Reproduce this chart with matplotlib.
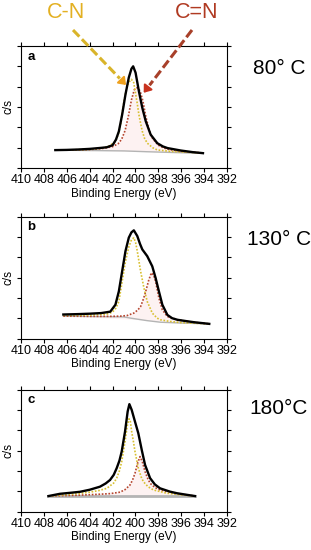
#!/usr/bin/env python3

import matplotlib
matplotlib.use('Agg')
import matplotlib.pyplot as plt
from matplotlib.lines import Line2D
from matplotlib.patches import FancyArrowPatch

plt.rcParams['font.family'] = ['Liberation Sans', 'DejaVu Sans']

## Data (binding energy in eV, intensity in tick units)
# panel a, 80 C
a_env_E = [407.0, 406.0, 405.0, 404.0, 403.0, 402.5, 402.0, 401.7, 401.45, 401.16, 400.87, 400.58,
           400.35, 400.2, 399.99, 399.7, 399.4, 399.1, 398.67, 398.09, 397.6, 397.2, 396.04, 395.0, 394.1]
a_env_I = [0.88, 0.89, 0.91, 0.94, 0.99, 1.02, 1.12, 1.4, 1.8, 2.63, 3.62, 4.45,
           4.88, 5.0, 4.69, 3.78, 2.96, 2.3, 1.64, 1.22, 1.06, 0.98, 0.86, 0.78, 0.73]
a_cn_E = [407.0, 405.0, 404.0, 403.0, 402.3, 401.75, 401.5, 401.3, 401.0, 400.8, 400.6, 400.35,
          400.15, 400.0, 399.85, 399.7, 399.55, 399.4, 399.2, 398.96, 398.5, 398.1, 397.0, 396.0, 394.1]
a_cn_I = [0.88, 0.9, 0.92, 0.97, 1.08, 1.3, 1.65, 2.13, 3.29, 3.85, 4.2, 4.36,
          4.2, 3.7, 3.2, 2.63, 2.2, 1.8, 1.45, 1.22, 1.0, 0.89, 0.82, 0.79, 0.74]
a_cdn_E = [407.0, 405.0, 404.0, 403.0, 402.0, 401.5, 401.2, 400.9, 400.6, 400.35, 400.1, 399.85,
           399.6, 399.35, 399.1, 398.8, 398.5, 398.0, 397.5, 397.0, 396.0, 394.1]
a_cdn_I = [0.88, 0.89, 0.91, 0.95, 1.05, 1.2, 1.42, 1.85, 2.6, 3.35, 3.85, 3.95,
           3.8, 3.3, 2.55, 1.85, 1.45, 1.12, 0.98, 0.9, 0.82, 0.74]
a_base_E = [407.0, 401.0, 399.0, 394.1]
a_base_I = [0.88, 0.84, 0.8, 0.72]

# panel b, 130 C
b_env_E = [406.3, 405.0, 404.0, 403.0, 402.2, 401.75, 401.45, 401.16, 400.87, 400.58, 400.35, 400.14,
           399.84, 399.6, 399.4, 398.97, 398.53, 398.24, 397.95, 397.65, 397.21, 396.8, 396.33, 395.5,
           394.87, 393.55]
b_env_I = [1.18, 1.2, 1.22, 1.25, 1.32, 1.66, 2.32, 3.31, 4.3, 4.96, 5.22, 5.32,
           5.04, 4.65, 4.38, 4.05, 3.55, 2.98, 2.32, 1.66, 1.16, 1.0, 0.92, 0.85,
           0.8, 0.72]
b_cn_E = [406.3, 404.0, 402.5, 402.0, 401.7, 401.45, 401.16, 400.87, 400.58, 400.35, 400.14, 399.98,
          399.84, 399.55, 399.26, 398.97, 398.53, 398.1, 397.8, 397.0, 396.0, 393.55]
b_cn_I = [1.14, 1.15, 1.2, 1.3, 1.5, 1.82, 2.81, 3.8, 4.5, 4.85, 4.96, 4.7,
          4.3, 3.31, 2.49, 1.82, 1.25, 1.0, 0.92, 0.84, 0.78, 0.72]
b_cdn_E = [406.3, 404.0, 402.0, 401.3, 400.73, 400.14, 399.8, 399.55, 399.3, 399.1, 398.85, 398.61,
           398.4, 398.24, 397.95, 397.65, 397.21, 396.33, 395.0, 393.55]
b_cdn_I = [1.1, 1.09, 1.09, 1.1, 1.13, 1.25, 1.4, 1.57, 1.95, 2.32, 2.85, 3.23,
           3.1, 2.81, 1.99, 1.41, 1.08, 0.92, 0.8, 0.72]
b_base_E = [406.3, 401.0, 400.4, 399.0, 397.8, 396.0, 393.55]
b_base_I = [1.1, 1.06, 1.0, 0.88, 0.8, 0.76, 0.72]

# panel c, 180 C
c_env_E = [407.6, 406.6, 405.5, 404.84, 404.0, 403.1, 402.6, 402.22, 401.9, 401.64, 401.4, 401.2,
           400.91, 400.68, 400.53, 400.33, 400.04, 399.75, 399.45, 399.16, 398.72, 398.3, 397.85,
           397.0, 396.39, 395.5, 394.8]
c_env_I = [0.76, 0.87, 0.93, 0.97, 1.07, 1.22, 1.38, 1.55, 1.8, 2.13, 2.5, 2.95,
           3.93, 4.92, 5.28, 5.0, 4.42, 3.85, 3.03, 2.29, 1.64, 1.33, 1.14,
           0.98, 0.9, 0.82, 0.76]
c_cn_E = [407.6, 405.0, 404.0, 403.2, 402.5, 401.9, 401.64, 401.4, 401.2, 400.91, 400.72, 400.56,
          400.45, 400.33, 400.18, 400.04, 399.75, 399.5, 399.31, 398.9, 398.43, 397.26, 396.0, 394.8]
c_cn_I = [0.76, 0.88, 0.95, 1.03, 1.14, 1.4, 1.64, 2.0, 2.45, 3.44, 4.2, 4.56,
          4.45, 3.93, 3.45, 2.95, 2.13, 1.7, 1.47, 1.22, 1.06, 0.9, 0.82, 0.76]
c_cdn_E = [407.6, 405.0, 403.1, 402.2, 401.35, 400.9, 400.48, 400.25, 400.04, 399.8, 399.6, 399.4,
           399.16, 398.95, 398.72, 398.3, 397.85, 396.39, 394.8]
c_cdn_I = [0.76, 0.8, 0.85, 0.88, 0.95, 1.08, 1.3, 1.55, 1.88, 2.4, 2.7, 2.45,
           1.96, 1.65, 1.39, 1.18, 1.06, 0.88, 0.76]
c_base_E = [407.6, 394.8]
c_base_I = [0.74, 0.74]

panel_letters = ['a', 'b', 'c']
temperatures = ['80\u00b0 C', '130\u00b0 C', '180\u00b0C']
x_ticks = [410, 408, 406, 404, 402, 400, 398, 396, 394, 392]

ENV_COLOR = 'black'
CN_COLOR = '#D8C030'
CDN_COLOR = '#B5452E'
BASE_COLOR = '#b4b4b4'

W, H = 311, 550


def fig_xy(x, y):
    # pixel position (from top-left) -> figure fraction
    return x / W, 1 - y / H


def draw_panel(ax, env, cn, cdn, base, letter, base_lw=1.0):
    ax.fill(cdn[0], cdn[1], color='#fdf2f2', lw=0, zorder=1)
    ax.plot(base[0], base[1], color=BASE_COLOR, lw=base_lw, zorder=2)
    ax.plot(cdn[0], cdn[1], color=CDN_COLOR, lw=1.2, ls=(0, (1, 1)), zorder=3)
    ax.plot(cn[0], cn[1], color=CN_COLOR, lw=1.2, ls=(0, (1, 1)), zorder=3)
    ax.plot(env[0], env[1], color=ENV_COLOR, lw=1.7, zorder=4)

    ax.set_xlim(410, 392)
    ax.set_ylim(0, 6)
    ax.set_xticks(x_ticks)
    ax.set_yticks(range(7))
    ax.set_yticklabels([])
    ax.tick_params(direction='out', length=3, width=0.8, labelsize=9, pad=1.5,
                   top=True, right=True, labeltop=False)
    for s in ax.spines.values():
        s.set_linewidth(0.8)
    ax.set_xlabel('Binding Energy (eV)', fontsize=8.5, labelpad=1)
    ax.set_ylabel('c/s', fontsize=8.5, labelpad=0)
    ax.text(0.03, 0.96, letter, transform=ax.transAxes, fontsize=9.5, fontweight='bold',
            va='top', ha='left')


def main():
    fig = plt.figure(figsize=(W / 100, H / 100), dpi=100)

    panels = [
        ((a_env_E, a_env_I), (a_cn_E, a_cn_I), (a_cdn_E, a_cdn_I), (a_base_E, a_base_I), 168.0, 1.0),
        ((b_env_E, b_env_I), (b_cn_E, b_cn_I), (b_cdn_E, b_cdn_I), (b_base_E, b_base_I), 338.5, 1.0),
        ((c_env_E, c_env_I), (c_cn_E, c_cn_I), (c_cdn_E, c_cdn_I), (c_base_E, c_base_I), 511.5, 2.0),
    ]
    temp_y = [69, 240, 409]
    for i, (env, cn, cdn, base, bottom_px, base_lw) in enumerate(panels):
        ax = fig.add_axes([21 / W, 1 - bottom_px / H, 206 / W, 122 / H])
        draw_panel(ax, env, cn, cdn, base, panel_letters[i], base_lw)
        fig.text(*fig_xy(279, temp_y[i]), temperatures[i], fontsize=15, ha='center', va='center')

    ## Peak labels and arrows
    fig.text(*fig_xy(66, 12.5), 'C-N', fontsize=15.5, color='#E3B022', ha='center', va='center')
    fig.text(*fig_xy(197, 13), 'C=N', fontsize=15.5, color='#B03A22', ha='center', va='center')

    arrows = [((73, 30), (128, 87), '#D9B42A', '#EFA11E'),
              ((192, 30), (142, 95), '#A8402A', '#C8321E')]
    for (x0, y0), (x1, y1), body_c, head_c in arrows:
        xm, ym = x0 + 0.85 * (x1 - x0), y0 + 0.85 * (y1 - y0)
        fig.add_artist(Line2D([x0 / W, xm / W], [1 - y0 / H, 1 - ym / H], transform=fig.transFigure,
                              color=body_c, lw=2.2, ls=(0, (3, 1.2))))
        fig.add_artist(FancyArrowPatch(fig_xy(xm, ym), fig_xy(x1, y1), transform=fig.transFigure,
                                       arrowstyle='-|>,head_length=4,head_width=3',
                                       color=head_c, lw=1.5, mutation_scale=1))

    fig.savefig('out.png', dpi=100)


if __name__ == '__main__':
    main()
